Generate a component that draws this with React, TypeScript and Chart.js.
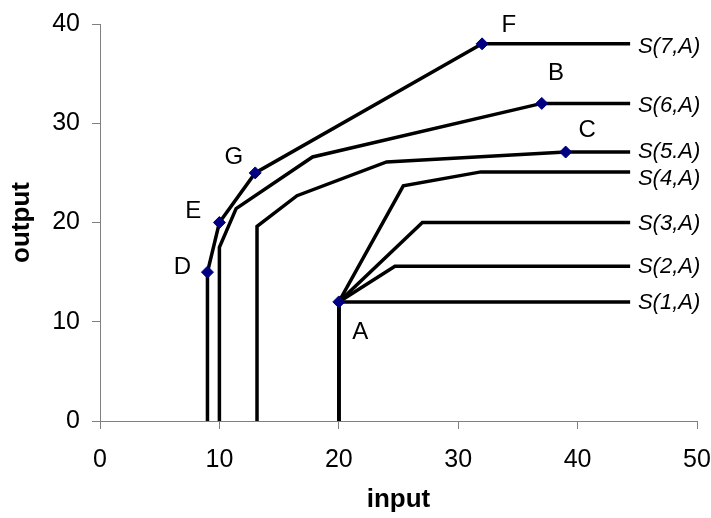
import React, { useEffect, useRef } from 'react';
import { Chart, registerables } from 'chart.js';

Chart.register(...registerables);

// axis ranges / ticks
const xMin = 0;
const xMax = 50;
const yMin = 0;
const yMax = 40;
const xStep = 10;
const yStep = 10;

// series polylines (input, output)
const s7x = [9, 9, 10, 13, 32, 44.4];
const s7y = [0, 15, 20, 25, 38, 38];
const s6x = [10, 10, 11.4, 17.8, 37, 44.4];
const s6y = [0, 17.5, 21.4, 26.6, 32, 32];
const s5x = [13.15, 13.15, 16.5, 24, 39, 44.4];
const s5y = [0, 19.6, 22.7, 26.1, 27.1, 27.1];
const s4x = [20, 20, 25.4, 31.9, 44.4];
const s4y = [0, 12, 23.7, 25.1, 25.1];
const s3x = [20, 20, 27, 44.4];
const s3y = [0, 12, 20, 20];
const s2x = [20, 20, 24.7, 44.4];
const s2y = [0, 12, 15.6, 15.6];
const s1x = [20, 20, 44.4];
const s1y = [0, 12, 12];

// labelled points
const pointNames = ['A', 'B', 'C', 'D', 'E', 'F', 'G'];
const pointX = [20, 37, 39, 9, 10, 32, 13];
const pointY = [12, 32, 27.1, 15, 20, 38, 25];
const pointLabelX = [21.8, 38.2, 40.8, 6.9, 7.8, 34.25, 11.2];
const pointLabelY = [8.9, 35.0, 29.3, 15.5, 21.1, 39.9, 26.6];

// series end labels
const seriesNames = ['S(7,A)', 'S(6,A)', 'S(5.A)', 'S(4,A)', 'S(3,A)', 'S(2,A)', 'S(1,A)'];
const seriesLabelY = [37.66, 31.8, 27.1, 24.4, 19.9, 15.5, 11.9];
const seriesLabelX = 45.05;

const FONT = "'Liberation Sans', Arial, sans-serif";

const zip = (xs: number[], ys: number[]) => xs.map((x, i) => ({ x, y: ys[i] }));

const labelPlugin = {
  id: 'textLabels',
  afterDatasetsDraw(chart: any) {
    const ctx = chart.ctx;
    const xs = chart.scales.x;
    const ys = chart.scales.y;
    ctx.save();
    ctx.fillStyle = '#000';
    ctx.textBaseline = 'middle';
    ctx.font = `24px ${FONT}`;
    ctx.textAlign = 'center';
    pointNames.forEach((n, i) => {
      ctx.fillText(n, xs.getPixelForValue(pointLabelX[i]), ys.getPixelForValue(pointLabelY[i]));
    });
    ctx.font = `italic 22px ${FONT}`;
    ctx.textAlign = 'left';
    seriesNames.forEach((n, i) => {
      ctx.fillText(n, xs.getPixelForValue(seriesLabelX), ys.getPixelForValue(seriesLabelY[i]));
    });
    ctx.restore();
  },
};

export default function App() {
  const ref = useRef<HTMLCanvasElement | null>(null);
  useEffect(() => {
    if (!ref.current) return;
    const lineDs = (xs: number[], ys: number[], label: string) => ({
      label,
      data: zip(xs, ys),
      showLine: true,
      borderColor: '#000',
      backgroundColor: '#000',
      borderWidth: 3.5,
      pointRadius: 0,
      tension: 0,
      fill: false,
      order: 1,
    });
    const chart = new Chart(ref.current, {
      type: 'scatter',
      data: {
        datasets: [
          {
            label: 'points',
            data: zip(pointX, pointY),
            showLine: false,
            pointStyle: 'rectRot',
            pointRadius: 6,
            pointBorderWidth: 1,
            pointBackgroundColor: '#000080',
            pointBorderColor: '#000080',
            order: 0,
          } as any,
          lineDs(s7x, s7y, seriesNames[0]),
          lineDs(s6x, s6y, seriesNames[1]),
          lineDs(s5x, s5y, seriesNames[2]),
          lineDs(s4x, s4y, seriesNames[3]),
          lineDs(s3x, s3y, seriesNames[4]),
          lineDs(s2x, s2y, seriesNames[5]),
          lineDs(s1x, s1y, seriesNames[6]),
        ],
      },
      options: {
        animation: false,
        responsive: false,
        layout: { padding: { top: 24, right: 14, left: 0, bottom: 0 } },
        plugins: {
          legend: { display: false },
          tooltip: { enabled: false },
        },
        scales: {
          x: {
            type: 'linear',
            min: xMin,
            max: xMax,
            ticks: {
              stepSize: xStep,
              color: '#000',
              font: { family: FONT, size: 25 },
              padding: 16,
              maxRotation: 0,
              autoSkip: false,
            },
            grid: { drawOnChartArea: false, drawTicks: true, tickLength: 8, color: '#808080' },
            border: { color: '#808080', width: 1 },
            title: {
              display: true,
              text: 'input',
              color: '#000',
              font: { family: FONT, size: 26, weight: 'bold' },
              padding: { top: 0, bottom: 3 },
            },
            afterFit: (s: any) => {
              s.height = 97;
              s.paddingLeft = 0;
              s.paddingRight = 0;
              s.paddingTop = 0;
              s.paddingBottom = 0;
            },
          },
          y: {
            type: 'linear',
            min: yMin,
            max: yMax,
            ticks: {
              stepSize: yStep,
              color: '#000',
              font: { family: FONT, size: 25 },
              padding: 12,
              autoSkip: false,
            },
            grid: { drawOnChartArea: false, drawTicks: true, tickLength: 8, color: '#808080' },
            border: { color: '#808080', width: 1 },
            title: {
              display: true,
              text: 'output',
              color: '#000',
              font: { family: FONT, size: 26, weight: 'bold' },
              padding: { top: 6, bottom: 0 },
            },
            afterFit: (s: any) => {
              s.width = 100;
              s.paddingLeft = 0;
              s.paddingRight = 0;
              s.paddingTop = 0;
              s.paddingBottom = 0;
            },
          },
        },
      } as any,
      plugins: [labelPlugin],
    });
    return () => chart.destroy();
  }, []);
  return (
    <div style={{ position: 'fixed', left: 0, top: 0, width: 711, height: 518, background: '#fff' }}>
      <canvas ref={ref} width={711} height={518} />
    </div>
  );
}
